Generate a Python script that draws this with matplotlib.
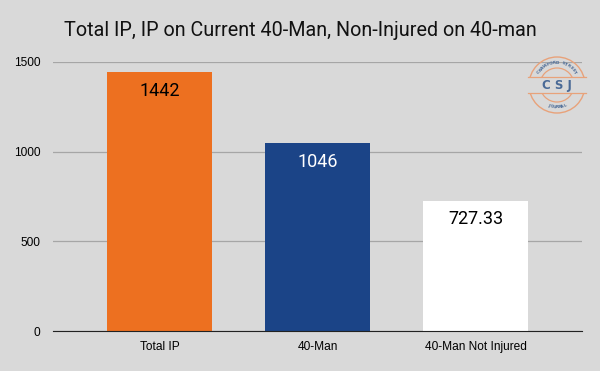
import numpy as np
import matplotlib.pyplot as plt
from matplotlib.patches import Circle, Rectangle

categories = ["Total IP", "40-Man", "40-Man Not Injured"]
values = [1442, 1046, 727.33]
value_labels = ["1442", "1046", "727.33"]
bar_colors = ["#ED7020", "#1B4487", "#FFFFFF"]
label_colors = ["black", "white", "black"]
yticks = [0, 500, 1000, 1500]

W, H = 600, 371
fig = plt.figure(figsize=(6, 3.71), dpi=100, facecolor="#d9d9d9")
ax = fig.add_axes([53/W, 40/H, 529/W, 269/H], facecolor="#d9d9d9")

x = list(range(len(categories)))
bars = ax.bar(x, values, width=0.665, color=bar_colors, zorder=3)

for b, lab, c in zip(bars, value_labels, label_colors):
    ax.text(b.get_x() + b.get_width()/2, b.get_height() - 105, lab,
            ha="center", va="center", fontsize=13, color=c, zorder=4,
            family="Roboto")

ax.set_xlim(-0.674, 2.674)
ax.set_ylim(0, 1500)
ax.set_yticks(yticks)
ax.set_xticks(x)
ax.set_xticklabels(categories, fontsize=8.6, family="Liberation Sans")
for t in ax.get_yticklabels():
    t.set_family("Liberation Sans")
ax.tick_params(axis="y", labelsize=8.6, length=0, pad=9)
ax.tick_params(axis="x", length=0, pad=7)
ax.grid(axis="y", color="#a6a6a6", linewidth=0.9, zorder=0)
for s in ["top", "right", "left"]:
    ax.spines[s].set_visible(False)
ax.spines["bottom"].set_color("#222222")
ax.spines["bottom"].set_zorder(5)

fig.text(0.5, 1 - 31/H, "Total IP, IP on Current 40-Man, Non-Injured on 40-man",
         ha="center", va="center", fontsize=14.2, color="#111111", family="Roboto")

# logo stamp
lc = "#E8A27A"
tc = "#4a6a96"
lax = fig.add_axes([(557 - 32)/W, (H - 85 - 32)/H, 64/W, 64/H])
lax.set_xlim(-32, 32)
lax.set_ylim(-32, 32)
lax.set_aspect("equal")
lax.axis("off")
lax.add_patch(Circle((0, 0), 28, fill=False, edgecolor=lc, linewidth=1.0))
lax.add_patch(Circle((0, 0), 17, fill=False, edgecolor=lc, linewidth=0.9))
lax.add_patch(Rectangle((-29, -8), 58, 16, facecolor="#d9d9d9", edgecolor="none"))
lax.plot([-29, 29], [8, 8], color=lc, linewidth=0.9)
lax.plot([-29, 29], [-8, -8], color=lc, linewidth=0.9)
lax.text(0, 0, "C S J", ha="center", va="center", fontsize=8.5,
         fontweight="bold", color=tc)

def arc_text(s, rad, span, top=True):
    n = len(s)
    angs = np.linspace(90 + span/2, 90 - span/2, n) if top else np.linspace(270 - span/2, 270 + span/2, n)
    for ch, a in zip(s, angs):
        t = np.radians(a)
        rot = a - 90 if top else a + 90
        lax.text(rad*np.cos(t), rad*np.sin(t), ch, ha="center", va="center",
                 fontsize=3, fontweight="bold", color=tc, rotation=rot)

arc_text("CRAWFORD STREET", 22, 110, top=True)
arc_text("JOURNAL", 22, 45, top=False)

fig.savefig("out.png", dpi=100, facecolor=fig.get_facecolor())
